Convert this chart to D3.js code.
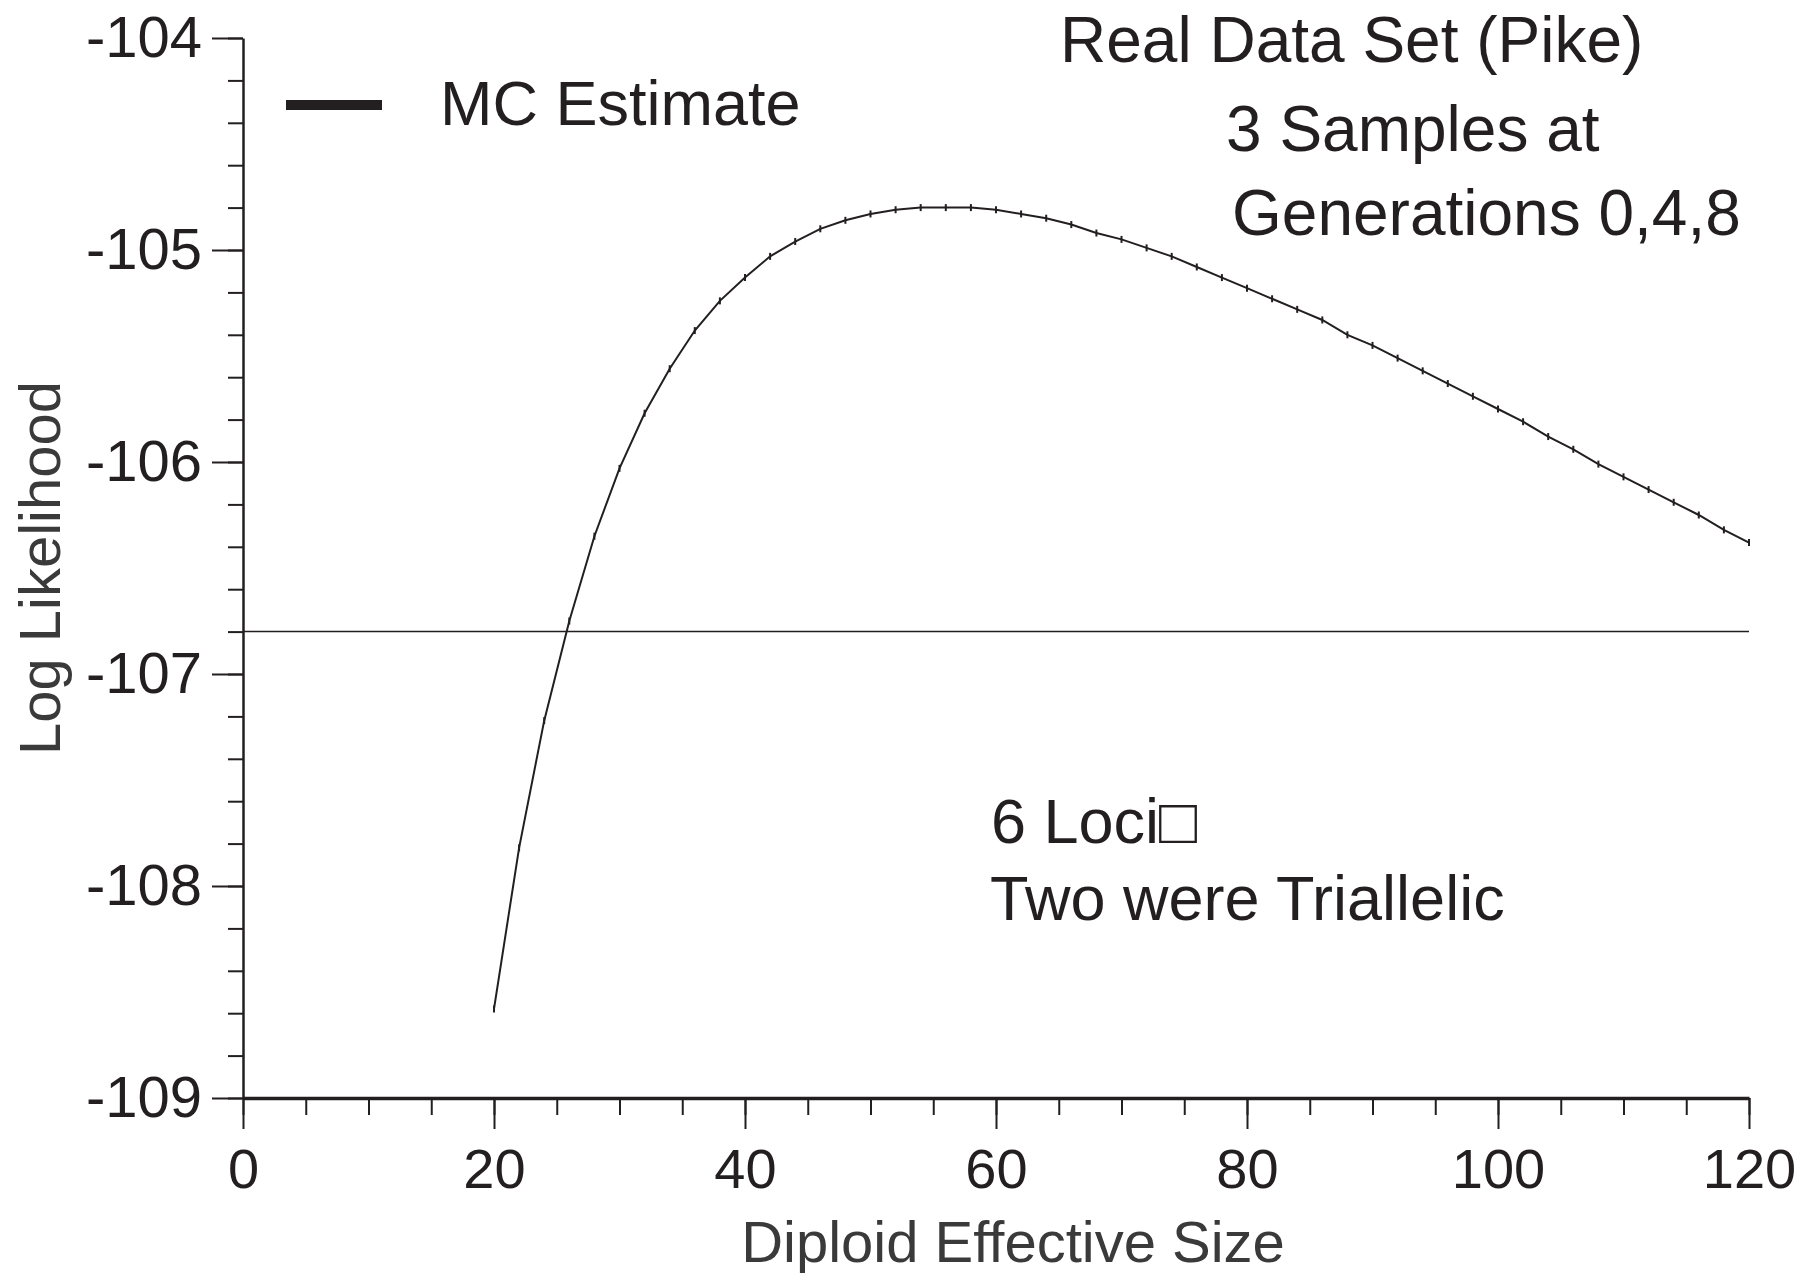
<!DOCTYPE html>
<html>
<head>
<meta charset="utf-8">
<script src="https://cdn.jsdelivr.net/npm/d3@7"></script>
<style>
  body { margin: 0; background: #fff; }
  svg text { font-family: "Liberation Sans", Arial, Helvetica, sans-serif; fill: #231f20; }
</style>
</head>
<body>
<div id="chart"></div>
<script>
// data
var effSize = [20, 22, 24, 26, 28, 30, 32, 34, 36, 38, 40, 42, 44, 46, 48, 50, 52, 54, 56, 58,
               60, 62, 64, 66, 68, 70, 72, 74, 76, 78, 80, 82, 84, 86, 88, 90, 92, 94, 96, 98,
               100, 102, 104, 106, 108, 110, 112, 114, 116, 118, 120];
var logLik = [-108.58, -107.82, -107.22, -106.75, -106.35, -106.03, -105.77, -105.56, -105.38, -105.24,
              -105.13, -105.03, -104.96, -104.90, -104.86, -104.83, -104.81, -104.80, -104.80, -104.80,
              -104.81, -104.83, -104.85, -104.88, -104.92, -104.95, -104.99, -105.03, -105.08, -105.13,
              -105.18, -105.23, -105.28, -105.33, -105.40, -105.45, -105.51, -105.57, -105.63, -105.69,
              -105.75, -105.81, -105.88, -105.94, -106.01, -106.07, -106.13, -106.19, -106.25, -106.32,
              -106.38];
var cutoff = -106.80;

var xTicks = [0, 20, 40, 60, 80, 100, 120];
var yTicks = [-104, -105, -106, -107, -108, -109];

var W = 1820, H = 1273;
var pLeft = 243, pRight = 1749, pTop = 38, pBottom = 1098;

var svg = d3.select("#chart").append("svg")
  .attr("width", W)
  .attr("height", H);

var x = d3.scaleLinear().domain([0, 120]).range([pLeft, pRight]);
var y = d3.scaleLinear().domain([-109, -104]).range([pBottom, pTop]);

// minor ticks first
svg.append("g")
  .attr("class", "x_minor")
  .attr("transform", "translate(0," + pBottom + ")")
  .call(d3.axisBottom(x).tickValues(d3.range(0, 121, 5)).tickSize(17).tickFormat(""));
svg.append("g")
  .attr("class", "y_minor")
  .attr("transform", "translate(" + pLeft + ",0)")
  .call(d3.axisLeft(y).tickValues(d3.range(-109, -103.99, 0.2)).tickSize(15).tickFormat(""));

var xAxis = svg.append("g")
  .attr("class", "x_axis")
  .attr("transform", "translate(0," + pBottom + ")")
  .call(d3.axisBottom(x).tickValues(xTicks).tickSize(31).tickSizeOuter(0).tickPadding(19)
    .tickFormat(function(d) { return String(d); }));
var yAxis = svg.append("g")
  .attr("class", "y_axis")
  .attr("transform", "translate(" + pLeft + ",0)")
  .call(d3.axisLeft(y).tickValues(yTicks).tickSize(31).tickSizeOuter(0).tickPadding(10)
    .tickFormat(function(d) { return String(d); }));

svg.selectAll(".x_minor path, .y_minor path").remove();
svg.selectAll("g.tick line").attr("stroke", "#231f20").attr("stroke-width", 2);
xAxis.select(".domain").attr("stroke", "#231f20").attr("stroke-width", 3.5);
yAxis.select(".domain").attr("stroke", "#231f20").attr("stroke-width", 2.5);
svg.selectAll(".x_axis text, .y_axis text")
  .attr("font-size", "56px")
  .attr("fill", "#231f20")
  .style("font-family", "'Liberation Sans', Arial, sans-serif");
yAxis.selectAll("text").attr("font-size", "58px");

// cutoff line
svg.append("line")
  .attr("x1", x(0)).attr("x2", x(120))
  .attr("y1", y(cutoff)).attr("y2", y(cutoff))
  .attr("stroke", "#231f20")
  .attr("stroke-width", 1.5);

// the MC estimate curve
var pts = effSize.map(function(d, i) { return [d, logLik[i]]; });
svg.append("path")
  .datum(pts)
  .attr("fill", "none")
  .attr("stroke", "#231f20")
  .attr("stroke-width", 2)
  .attr("d", d3.line().x(function(d) { return x(d[0]); }).y(function(d) { return y(d[1]); }));

svg.selectAll(".pt").data(pts).enter()
  .append("line")
  .attr("class", "pt")
  .attr("x1", function(d) { return x(d[0]); })
  .attr("x2", function(d) { return x(d[0]); })
  .attr("y1", function(d) { return y(d[1]) - 3.5; })
  .attr("y2", function(d) { return y(d[1]) + 3.5; })
  .attr("stroke", "#231f20")
  .attr("stroke-width", 2);

// legend
svg.append("line")
  .attr("x1", 286).attr("x2", 382)
  .attr("y1", 105).attr("y2", 105)
  .attr("stroke", "#231f20")
  .attr("stroke-width", 10);
svg.append("text")
  .attr("x", 440).attr("y", 125)
  .attr("font-size", "63px")
  .text("MC Estimate");

// annotations
var notesTop = [["Real Data Set (Pike)", 1060, 62], ["3 Samples at", 1226, 151], ["Generations 0,4,8", 1232, 235]];
svg.selectAll(".note_top").data(notesTop).enter()
  .append("text")
  .attr("class", "note_top")
  .attr("x", function(d) { return d[1]; })
  .attr("y", function(d) { return d[2]; })
  .attr("font-size", "64px")
  .text(function(d) { return d[0]; });

var notesLow = [["6 Loci\u25A1", 991, 843], ["Two were Triallelic", 990, 920]];
svg.selectAll(".note_low").data(notesLow).enter()
  .append("text")
  .attr("class", "note_low")
  .attr("x", function(d) { return d[1]; })
  .attr("y", function(d) { return d[2]; })
  .attr("font-size", "63px")
  .text(function(d) { return d[0]; });

// axis titles
svg.append("text")
  .attr("x", 1013)
  .attr("y", 1262)
  .attr("text-anchor", "middle")
  .attr("font-size", "58px")
  .style("fill", "#3a3a3a")
  .text("Diploid Effective Size");

svg.append("text")
  .attr("transform", "translate(60," + ((pTop + pBottom) / 2) + ") rotate(-90)")
  .attr("text-anchor", "middle")
  .attr("font-size", "58px")
  .style("fill", "#3a3a3a")
  .text("Log Likelihood");
</script>
</body>
</html>
